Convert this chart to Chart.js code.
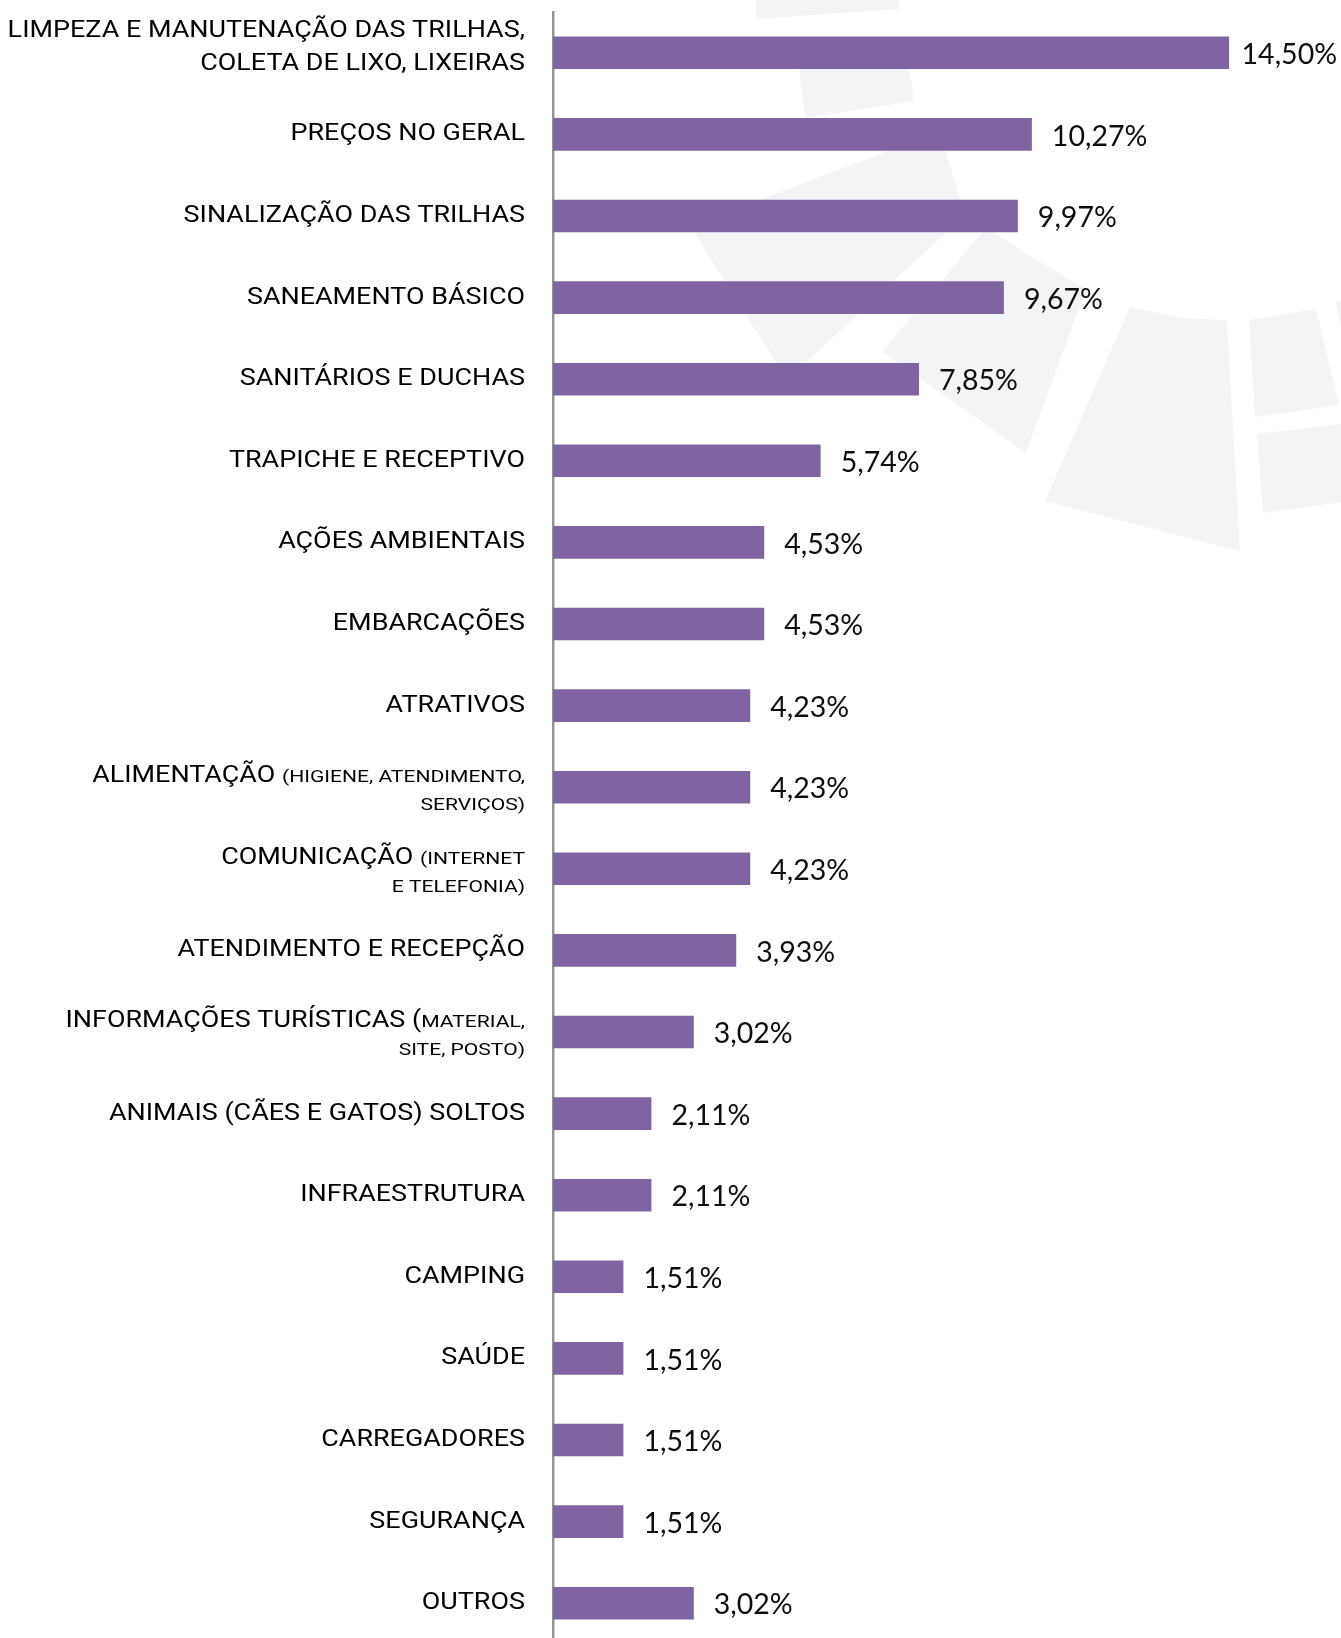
<!DOCTYPE html>
<html lang="pt">
<head>
    <meta charset="UTF-8">
    <title>Melhorias sugeridas</title>
    <script src="https://cdn.jsdelivr.net/npm/chart.js@4"></script>
    <style>
        html, body { margin: 0; padding: 0; background: #fff; overflow: hidden; }
        #wrap { width: 1341px; height: 1638px; overflow: hidden; }
        #box { position: relative; width: 1341px; height: 1644px; }
    </style>
</head>
<body>
    <div id="wrap"><div id="box"><canvas id="chart"></canvas></div></div>
    <script>
    // categories: {...} marks the small-print part of a label
    const categories = [
        ['LIMPEZA E MANUTENAÇÃO DAS TRILHAS,', 'COLETA DE LIXO, LIXEIRAS'],
        'PREÇOS NO GERAL',
        'SINALIZAÇÃO DAS TRILHAS',
        'SANEAMENTO BÁSICO',
        'SANITÁRIOS E DUCHAS',
        'TRAPICHE E RECEPTIVO',
        'AÇÕES AMBIENTAIS',
        'EMBARCAÇÕES',
        'ATRATIVOS',
        ['ALIMENTAÇÃO {(HIGIENE, ATENDIMENTO,}', '{SERVIÇOS)}'],
        ['COMUNICAÇÃO {(INTERNET}', '{E TELEFONIA)}'],
        'ATENDIMENTO E RECEPÇÃO',
        ['INFORMAÇÕES TURÍSTICAS ({MATERIAL,}', '{SITE, POSTO)}'],
        'ANIMAIS (CÃES E GATOS) SOLTOS',
        'INFRAESTRUTURA',
        'CAMPING',
        'SAÚDE',
        'CARREGADORES',
        'SEGURANÇA',
        'OUTROS'
    ];
    const values = [14.50, 10.27, 9.97, 9.67, 7.85, 5.74, 4.53, 4.53, 4.23, 4.23,
                    4.23, 3.93, 3.02, 2.11, 2.11, 1.51, 1.51, 1.51, 1.51, 3.02];

    const BAR_COLOR = '#8064A2';
    const BIG_FONT = '24.5px Roboto';
    const SMALL_FONT = '17px Roboto';
    const BIG_STRETCH = 1.1;
    const SMALL_STRETCH = 1.24;

    // faint logo in the background (decoration only)
    const watermark = [
        [[756,0],[899,0],[899,9],[756,19]],
        [[798,60],[908,60],[914,101],[805,118]],
        [[891,150],[945,150],[965,215],[787,380],[690,226]],
        [[986,228],[1040,262],[1086,289],[1026,453],[882,352]],
        [[1130,307],[1180,318],[1227,320],[1240,551],[1045,501]],
        [[1249,320],[1316,309],[1339,405],[1255,417]],
        [[1257,434],[1341,424],[1341,502],[1263,513]],
        [[1336,302],[1341,300],[1341,330]]
    ];

    const plainLabels = categories.map(c => [].concat(c).join(' ').replace(/[{}]/g, ''));

    function splitRich(line) {
        const segs = [];
        line.split(/(\{[^}]*\})/).forEach(part => {
            if (!part) return;
            if (part[0] === '{') segs.push({ text: part.slice(1, -1), small: true });
            else segs.push({ text: part, small: false });
        });
        return segs;
    }

    function drawRichLine(ctx, line, xRight, yBase) {
        const segs = splitRich(line);
        segs.forEach(s => {
            ctx.font = s.small ? SMALL_FONT : BIG_FONT;
            s.w = ctx.measureText(s.text).width * (s.small ? SMALL_STRETCH : BIG_STRETCH);
        });
        let x = xRight - segs.reduce((a, s) => a + s.w, 0);
        segs.forEach(s => {
            ctx.save();
            ctx.font = s.small ? SMALL_FONT : BIG_FONT;
            ctx.translate(x, yBase);
            ctx.scale(s.small ? SMALL_STRETCH : BIG_STRETCH, 1);
            ctx.fillText(s.text, 0, 0);
            ctx.restore();
            x += s.w;
        });
    }

    const backdrop = {
        id: 'backdrop',
        beforeDraw(chart) {
            const ctx = chart.ctx;
            ctx.save();
            ctx.fillStyle = '#f3f4f6';
            watermark.forEach(poly => {
                ctx.beginPath();
                poly.forEach((p, i) => i ? ctx.lineTo(p[0], p[1]) : ctx.moveTo(p[0], p[1]));
                ctx.closePath();
                ctx.fill();
            });
            ctx.restore();
        }
    };

    const labelPlugin = {
        id: 'labels',
        afterDatasetsDraw(chart) {
            const ctx = chart.ctx;
            const yScale = chart.scales.y;
            const right = chart.chartArea.left - 28;
            ctx.save();
            ctx.fillStyle = '#000';
            ctx.textAlign = 'left';
            ctx.textBaseline = 'alphabetic';
            categories.forEach((cat, i) => {
                const cy = yScale.getPixelForValue(i);
                if (Array.isArray(cat)) {
                    // second line in small print sits closer
                    const smallSecond = cat[1].startsWith('{');
                    const y1 = smallSecond ? cy - 5 : cy - 16;
                    const y2 = smallSecond ? cy + 23 : cy + 17;
                    drawRichLine(ctx, cat[0], right, y1);
                    drawRichLine(ctx, cat[1], right, y2);
                } else {
                    drawRichLine(ctx, cat, right, cy + 6);
                }
            });

            // value labels
            ctx.font = '28.5px Lato';
            ctx.fillStyle = '#0d0d0d';
            ctx.textBaseline = 'middle';
            chart.getDatasetMeta(0).data.forEach((bar, i) => {
                const txt = values[i].toFixed(2).replace('.', ',') + '%';
                const w = ctx.measureText(txt).width;
                const x = Math.min(bar.x + 20, chart.width - w - 4);
                ctx.fillText(txt, x, bar.y + 2);
            });
            ctx.restore();
        }
    };

    new Chart(document.getElementById('chart'), {
        type: 'bar',
        data: {
            labels: plainLabels,
            datasets: [{
                data: values,
                backgroundColor: BAR_COLOR,
                borderWidth: 0,
                barPercentage: 0.4,
                categoryPercentage: 1
            }]
        },
        options: {
            indexAxis: 'y',
            responsive: true,
            maintainAspectRatio: false,
            animation: false,
            layout: { padding: { top: 12, left: 0, right: 0, bottom: 0 } },
            plugins: {
                legend: { display: false },
                tooltip: { enabled: false }
            },
            scales: {
                x: {
                    display: false,
                    min: 0,
                    max: 16.9
                },
                y: {
                    grid: { display: false, drawTicks: false },
                    border: { display: true, color: '#969696', width: 2.5 },
                    ticks: { display: false },
                    afterFit(scale) { scale.width = 553; }
                }
            }
        },
        plugins: [backdrop, labelPlugin]
    });
    </script>
</body>
</html>
